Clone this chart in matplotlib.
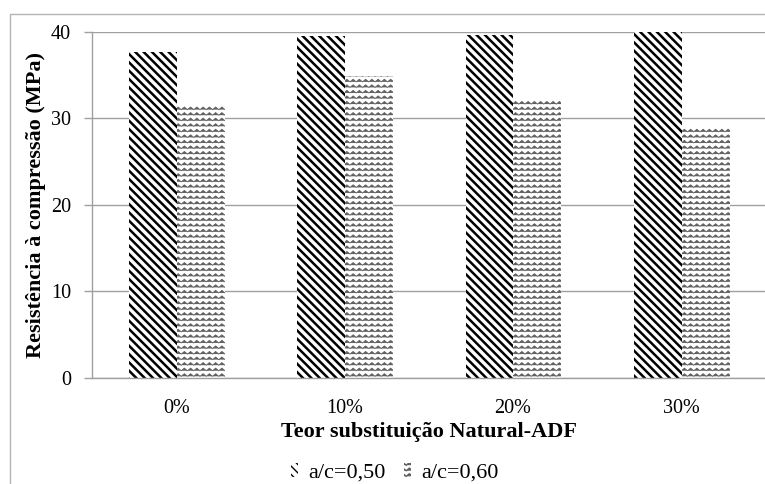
import warnings
import numpy as np
import matplotlib
matplotlib.use("Agg")
import matplotlib.pyplot as plt
import matplotlib.hatch as mhatch
from matplotlib.path import Path
from matplotlib.patches import Rectangle

warnings.filterwarnings("ignore")

categories = ["0%", "10%", "20%", "30%"]
ac_050 = [37.7, 39.5, 39.7, 40.0]
ac_060 = [31.4, 34.9, 32.0, 28.9]
series_labels = ["a/c=0,50", "a/c=0,60"]
y_ticks = [0, 10, 20, 30, 40]

BSL = chr(92)  # backslash, for the diagonal hatch


class WaveHatch(mhatch.HatchPatternBase):
    # wavy lines for the '~' hatch (not available in matplotlib)
    def __init__(self, hatch, density):
        self.num_rows = int(hatch.count('~') * density)
        self.num_seg = 32
        self.num_vertices = self.num_rows * (self.num_seg + 1)

    def set_vertices_and_codes(self, vertices, codes):
        rows, step = np.linspace(0.0, 1.0, self.num_rows, False, retstep=True)
        rows += step / 2.0
        xs = np.linspace(0.0, 1.0, self.num_seg + 1)
        amp = np.where(np.arange(self.num_seg + 1) % 2 == 0, -0.013, 0.013)
        n = self.num_seg + 1
        for i, r in enumerate(rows):
            vertices[i * n:(i + 1) * n, 0] = xs
            vertices[i * n:(i + 1) * n, 1] = r + amp
            codes[i * n] = Path.MOVETO
            codes[i * n + 1:(i + 1) * n] = Path.LINETO


mhatch._hatch_types.append(WaveHatch)

plt.rcParams['font.family'] = ['Liberation Serif', 'DejaVu Serif']

fig = plt.figure(figsize=(7.65, 4.84), dpi=100)
ax = fig.add_axes([0.1203, 0.219, 0.8797, 0.715])

x = np.arange(len(categories))
w = 0.285
b1 = ax.bar(x - w / 2 + 0.005, ac_050, w, color='white', edgecolor='black',
            linewidth=0, hatch=BSL * 4, label=series_labels[0], zorder=2)
b2 = ax.bar(x + w / 2 + 0.005, ac_060, w, color='white', edgecolor='#606060',
            linewidth=0, hatch='~~~', label=series_labels[1], zorder=2)
for p in b1:
    p.set_hatch_linewidth(1.8)
for p in b2:
    p.set_hatch_linewidth(0.6)

ax.set_xlim(-0.5, len(categories) - 0.5)
ax.set_ylim(0, 40)
ax.set_yticks(y_ticks)
ax.set_xticks(x)
ax.set_xticklabels(categories)
ax.tick_params(axis='y', length=6, color='#a0a0a0', width=1, pad=9, labelsize=14.5)
ax.tick_params(axis='x', length=0, pad=15, labelsize=14.5)
ax.yaxis.grid(True, color='#a0a0a0', linewidth=1)
ax.set_axisbelow(True)
for s in ['top', 'right']:
    ax.spines[s].set_visible(False)
for s in ['left', 'bottom']:
    ax.spines[s].set_color('#a0a0a0')
    ax.spines[s].set_linewidth(1)

ax.set_ylabel('Resistência à compressão (MPa)', fontsize=16, fontweight='bold', labelpad=4)
ax.set_xlabel('Teor substituição Natural-ADF', fontsize=16, fontweight='bold', labelpad=3)

leg = fig.legend(handles=[b1, b2], labels=series_labels, loc='center',
                 bbox_to_anchor=(0.516, 0.023), ncol=2, frameon=False,
                 fontsize=16, handlelength=0.35, handleheight=0.6,
                 handletextpad=0.45, columnspacing=0.8)

# outer chart border
fig.patches.append(Rectangle((10 / 765, -0.1), 1.2, 1 - 14 / 484 + 0.1,
                             transform=fig.transFigure, fill=False,
                             edgecolor='#b4b4b4', linewidth=1))

fig.savefig('out.png', dpi=100)
